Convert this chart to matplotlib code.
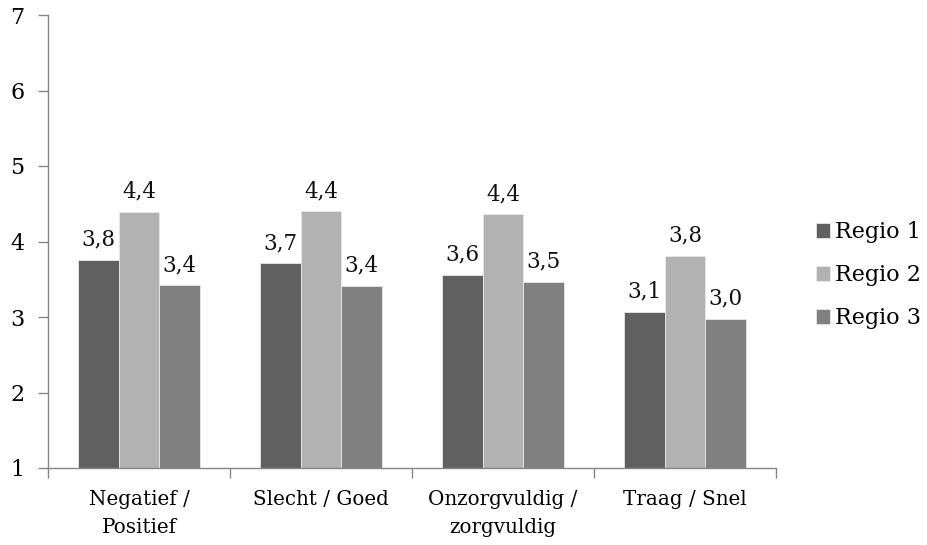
import matplotlib
matplotlib.use("Agg")
import matplotlib.pyplot as plt
import numpy as np

categories = ["Negatief /\nPositief", "Slecht / Goed", "Onzorgvuldig /\nzorgvuldig", "Traag / Snel"]
series_names = ["Regio 1", "Regio 2", "Regio 3"]
regio1 = [3.76, 3.71, 3.56, 3.07]
regio2 = [4.39, 4.40, 4.36, 3.81]
regio3 = [3.42, 3.41, 3.46, 2.98]
colors = ["#606060", "#b2b2b2", "#808080"]
yticks = [1, 2, 3, 4, 5, 6, 7]

plt.rcParams['font.family'] = ['DejaVu Serif']
fig = plt.figure(figsize=(9.28, 5.45), dpi=100)
ax = fig.add_axes([48/928, 1-468/545, (776-48)/928, (468-15)/545])

x = np.arange(len(categories))
w = 0.222
for i, (vals, name, c) in enumerate(zip([regio1, regio2, regio3], series_names, colors)):
    pos = x + (i - 1) * w
    ax.bar(pos, np.array(vals) - 1, bottom=1, width=w, color=c,
           edgecolor="#e8e8e8", linewidth=0.6, label=name)
    for p, v in zip(pos, vals):
        ax.text(p, v + 0.19, f"{v:.1f}".replace(".", ","), ha="center", va="baseline",
                fontsize=15.5, color="#111111")

ax.set_xlim(-0.5, len(categories) - 0.5)
ax.set_ylim(1, 7)
ax.set_yticks(yticks)
ax.set_yticklabels([str(t) for t in yticks], fontsize=16)
ax.set_xticks(np.arange(len(categories) + 1) - 0.5, minor=False)
ax.set_xticklabels([])
ax.set_xticks(x, minor=True)
ax.set_xticklabels(categories, minor=True, fontsize=14.3, linespacing=1.6)
ax.tick_params(axis="x", which="minor", length=0, pad=16)
ax.tick_params(axis="x", which="major", length=7, color="#868686", width=1)
ax.tick_params(axis="y", length=7, color="#868686", width=1, pad=10)
for s in ["top", "right"]:
    ax.spines[s].set_visible(False)
for s in ["left", "bottom"]:
    ax.spines[s].set_color("#868686")
    ax.spines[s].set_linewidth(1)

leg = fig.legend(loc="center left", bbox_to_anchor=(816/928, 1-275/545), frameon=False,
                 fontsize=16, handlelength=0.65, handleheight=0.65, handletextpad=0.2,
                 labelspacing=0.95, borderpad=0, borderaxespad=0)
fig.savefig("out.png", dpi=100)
